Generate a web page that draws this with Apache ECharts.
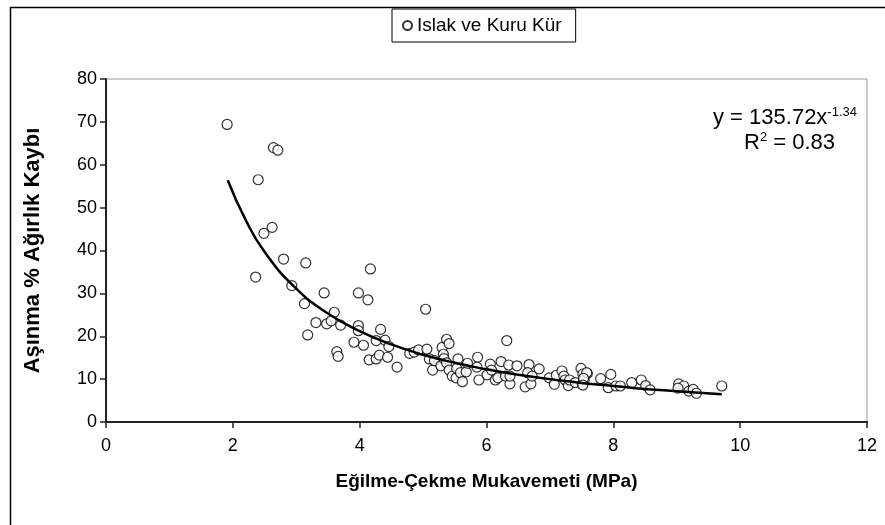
<!DOCTYPE html>
<html>
<head>
<meta charset="utf-8">
<script src="https://cdn.jsdelivr.net/npm/echarts@6/dist/echarts.min.js"></script>
<style>
  html, body { margin: 0; padding: 0; background: #fff; }
  #chart { width: 885px; height: 525px; }
</style>
</head>
<body>
<div id="chart"></div>
<script>
// measured points: Eğilme-Çekme Mukavemeti (MPa) vs Aşınma % Ağırlık Kaybı
var xVals = [
    1.91, 2.64, 2.71, 2.40, 2.49, 2.62, 2.36, 2.80, 3.15, 2.93,
    3.44, 3.98, 3.13, 3.60, 3.31, 3.48, 3.55, 3.70, 3.18, 3.91,
    3.64, 3.66, 3.98, 3.98, 4.17, 4.13, 5.04, 4.33, 4.06, 4.26,
    4.40, 4.46, 4.15, 4.26, 4.31, 4.44, 4.59, 4.79, 4.86, 4.93,
    5.06, 5.10, 5.15, 5.18, 5.28, 5.30, 5.37, 5.41, 5.32, 5.33,
    5.37, 5.41, 5.46, 5.52, 5.53, 5.55, 5.59, 5.62, 5.68, 5.70,
    5.86, 5.85, 5.88, 6.01, 6.06, 6.08, 6.14, 6.18, 6.23, 6.30,
    6.32, 6.35, 6.37, 6.37, 6.48, 6.61, 6.67, 6.65, 6.70, 6.72,
    6.83, 6.99, 7.07, 7.10, 7.19, 7.22, 7.24, 7.29, 7.31, 7.40,
    7.49, 7.52, 7.59, 7.51, 7.54, 7.58, 7.53, 7.52, 7.80, 7.96,
    7.92, 8.04, 8.11, 8.29, 8.44, 8.51, 8.58, 9.03, 9.11, 9.02,
    9.19, 9.26, 9.31, 9.71
];
var yVals = [
    69.4, 64.0, 63.4, 56.5, 44.0, 45.4, 33.8, 38.0, 37.1, 31.8,
    30.1, 30.1, 27.6, 25.6, 23.2, 22.9, 23.6, 22.6, 20.3, 18.6,
    16.4, 15.3, 22.5, 21.3, 35.7, 28.5, 26.3, 21.6, 17.9, 19.0,
    19.1, 17.6, 14.5, 14.7, 15.6, 15.1, 12.8, 16.0, 16.3, 16.8,
    17.0, 14.7, 12.1, 14.3, 13.1, 17.4, 19.3, 18.3, 15.8, 14.8,
    13.8, 12.1, 10.7, 10.3, 12.5, 14.7, 11.5, 9.4, 11.7, 13.7,
    15.1, 12.8, 9.8, 11.0, 13.5, 12.1, 9.8, 10.3, 14.1, 10.7,
    19.0, 13.3, 8.9, 10.7, 13.1, 8.2, 13.4, 11.5, 8.9, 10.7,
    12.4, 10.3, 8.8, 10.9, 11.9, 10.7, 9.8, 8.5, 9.8, 9.2,
    12.5, 11.2, 11.3, 8.8, 9.8, 11.5, 10.2, 8.6, 10.1, 11.1,
    8.0, 8.4, 8.4, 9.2, 9.8, 8.5, 7.5, 8.9, 8.4, 7.9,
    7.2, 7.6, 6.7, 8.4
];

// power trendline as drawn in the picture
var trendX = [1.92, 2.2, 2.5, 3, 3.5, 4, 4.5, 5, 5.5, 6, 6.5, 7, 7.5, 8, 8.5, 9, 9.71];
var trendY = [56.4, 47.2, 39.7, 31.1, 25.3, 21.2, 18.1, 15.7, 13.8, 12.3, 11.0, 10.0, 9.1, 8.4, 7.7, 7.2, 6.5];

var xTicks = [0, 2, 4, 6, 8, 10, 12];
var yTicks = [0, 10, 20, 30, 40, 50, 60, 70, 80];

var points = xVals.map(function (x, i) { return [x, yVals[i]]; });
var trend = trendX.map(function (x, i) { return [x, trendY[i]]; });

var font = "Liberation Sans, Arial, sans-serif";

var myChart = echarts.init(document.getElementById("chart"), null, { renderer: "canvas" });

var option = {
    animation: false,
    backgroundColor: "#fff",
    textStyle: { fontFamily: font },
    grid: {
        left: 106,
        top: 79,
        right: 18,
        bottom: 103,
        show: true,
        borderColor: "#999",
        borderWidth: 1,
        backgroundColor: "#fff",
    },
    legend: {
        top: 9,
        left: 392,
        padding: [7, 14, 7, 10],
        borderColor: "#000",
        borderWidth: 1,
        itemWidth: 9,
        itemHeight: 9,
        itemGap: 7,
        textStyle: { fontSize: 19, color: "#000", fontFamily: font },
        data: [{ name: "Islak ve Kuru Kür", icon: "circle" }],
    },
    xAxis: {
        type: "value",
        min: xTicks[0],
        max: xTicks[xTicks.length - 1],
        interval: 2,
        name: "Eğilme-Çekme Mukavemeti (MPa)",
        nameLocation: "middle",
        nameGap: 50,
        nameTextStyle: { fontSize: 19, fontWeight: "bold", color: "#000", fontFamily: font },
        axisLine: { show: true, onZero: false, lineStyle: { color: "#222", width: 2 } },
        axisTick: { show: true, inside: false, length: 6, lineStyle: { color: "#222", width: 1.5 } },
        axisLabel: { fontSize: 18, color: "#000", margin: 15, fontFamily: font },
        splitLine: { show: false },
    },
    yAxis: {
        type: "value",
        min: yTicks[0],
        max: yTicks[yTicks.length - 1],
        interval: 10,
        name: "Aşınma % Ağırlık Kaybı",
        nameLocation: "middle",
        nameGap: 62,
        nameTextStyle: { fontSize: 22, fontWeight: "bold", color: "#000", fontFamily: font },
        axisLine: { show: true, onZero: false, lineStyle: { color: "#222", width: 2 } },
        axisTick: { show: true, inside: false, length: 6, lineStyle: { color: "#222", width: 1.5 } },
        axisLabel: { fontSize: 18, color: "#000", margin: 9, fontFamily: font },
        splitLine: { show: false },
    },
    graphic: [
        {
            type: "rect",
            left: 8,
            top: 5,
            shape: { width: 900, height: 540 },
            style: { fill: "none", stroke: "#000", lineWidth: 1.5 },
            silent: true,
            z: -10,
        },
        {
            type: "text",
            right: 28,
            top: 106,
            style: {
                text: "{b|y = 135.72x}{s|-1.34}",
                rich: {
                    b: { fontSize: 22, fontFamily: font, fill: "#000" },
                    s: { fontSize: 13, fontFamily: font, fill: "#000", verticalAlign: "top", padding: [0, 0, 10, 0] },
                },
            },
        },
        {
            type: "text",
            right: 50,
            top: 131,
            style: {
                text: "{b|R}{s|2}{b| = 0.83}",
                rich: {
                    b: { fontSize: 22, fontFamily: font, fill: "#000" },
                    s: { fontSize: 13, fontFamily: font, fill: "#000", verticalAlign: "top", padding: [0, 0, 10, 0] },
                },
            },
        },
    ],
    series: [
        {
            name: "Islak ve Kuru Kür",
            type: "scatter",
            data: points,
            symbol: "circle",
            symbolSize: 10,
            itemStyle: { color: "#fff", borderColor: "#000", borderWidth: 1.2 },
            z: 3,
        },
        {
            name: "trend",
            type: "line",
            data: trend,
            smooth: true,
            symbol: "none",
            lineStyle: { color: "#000", width: 2.5 },
            z: 4,
        },
    ],
};
myChart.setOption(option);
</script>
</body>
</html>
